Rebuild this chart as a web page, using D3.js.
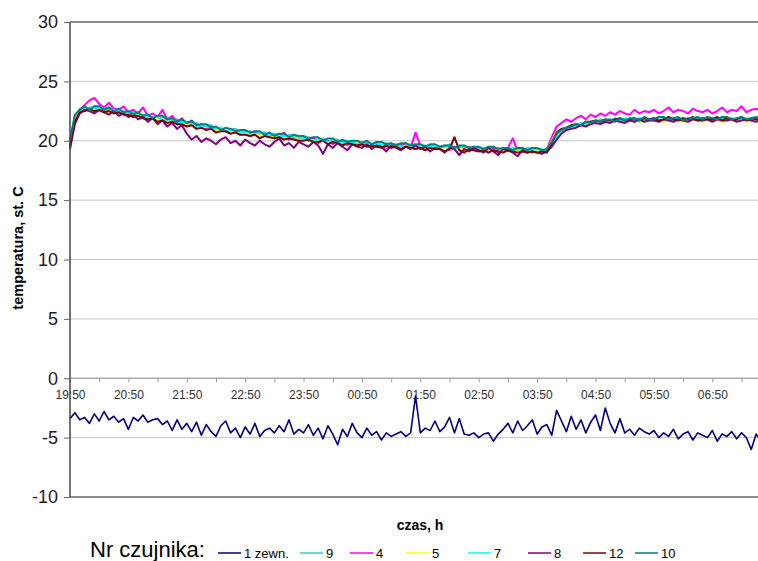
<!DOCTYPE html>
<html>
<head>
<meta charset="utf-8">
<style>
body { margin: 0; background: #fff; }
svg { display: block; font-family: "Liberation Sans", Arial, sans-serif; }
</style>
</head>
<body>
<svg width="758" height="561"></svg>
<script src="https://d3js.org/d3.v7.min.js"></script>
<script>
// sensor names (legend order = drawing order)
var sensors = ["1 zewn.", "9", "4", "5", "7", "8", "12", "10"];
var colors = ["#000080", "#33cccc", "#ff00ff", "#ffff00", "#00ffff", "#800080", "#800000", "#008080"];
var hourLabels = ["19:50", "20:50", "21:50", "22:50", "23:50", "00:50", "01:50", "02:50", "03:50", "04:50", "05:50", "06:50"];
var yTicks = [-10, -5, 0, 5, 10, 15, 20, 25, 30];

// all sensors read every 5 min from 19:50 to 07:40, one row per hour
var s1 = [-3.4,-2.9,-3.5,-3.3,-3.8,-3.0,-3.6,-2.8,-3.5,-3.2,-3.7,-3.4,
  -4.3,-3.3,-3.6,-3.1,-3.7,-3.5,-3.4,-3.9,-3.6,-4.4,-3.5,-4.3,
  -3.8,-4.5,-3.7,-4.8,-3.9,-4.5,-4.9,-4.0,-3.6,-4.6,-4.2,-5.0,
  -4.1,-4.7,-3.8,-4.9,-4.4,-4.2,-4.6,-4.0,-4.5,-3.5,-4.7,-4.3,
  -4.6,-3.9,-4.8,-4.2,-5.1,-4.0,-4.7,-5.6,-4.3,-4.9,-3.8,-4.6,
  -5.0,-4.2,-4.8,-4.5,-5.2,-4.6,-4.9,-4.7,-4.5,-4.9,-4.6,-1.5,
  -4.6,-4.2,-4.4,-3.6,-4.5,-4.1,-3.3,-4.6,-3.4,-4.7,-4.8,-4.6,
  -5.0,-4.7,-4.6,-5.3,-4.7,-4.3,-3.8,-4.6,-3.6,-4.4,-4.0,-3.5,
  -4.7,-4.1,-3.9,-4.8,-2.7,-3.6,-4.5,-3.2,-4.3,-3.5,-4.6,-3.7,
  -3.1,-4.4,-2.5,-3.8,-4.6,-3.4,-4.6,-4.3,-4.8,-4.2,-4.5,-4.7,
  -4.4,-5.0,-4.6,-4.9,-4.3,-5.1,-4.7,-4.5,-5.2,-4.6,-4.8,-5.0,
  -4.4,-5.3,-4.7,-4.9,-4.5,-5.1,-4.6,-5.0,-6.0,-4.7,-5.3];

var s9 = [19.9,22.0,22.7,22.5,22.8,22.8,22.5,22.7,22.7,22.4,22.6,22.5,
  22.2,22.4,22.3,22.0,22.2,22.0,21.8,22.0,21.9,21.6,21.8,21.6,
  21.6,21.3,21.5,21.2,21.3,21.3,21.0,21.1,20.8,21.0,21.0,20.7,
  20.7,20.8,20.6,20.6,20.7,20.4,20.6,20.5,20.3,20.5,20.5,20.2,
  20.2,20.3,20.1,20.1,20.2,19.9,20.1,20.1,19.8,20.0,19.9,19.8,
  19.9,19.7,19.8,19.8,19.6,19.8,19.6,19.7,19.7,19.5,19.7,19.6,
  19.6,19.6,19.4,19.6,19.5,19.5,19.7,19.4,19.5,19.5,19.3,19.5,
  19.4,19.4,19.3,19.4,19.4,19.2,19.4,19.3,19.3,19.2,19.4,19.3,
  19.3,19.3,19.1,19.7,20.5,21.0,21.0,21.3,21.3,21.5,21.4,21.6,
  21.6,21.8,21.7,21.7,21.9,21.6,21.8,21.8,21.6,21.9,21.8,21.7,
  21.9,21.7,21.8,21.9,21.7,21.8,21.9,21.7,21.8,21.9,21.7,21.8,
  21.8,21.9,21.7,21.8,21.9,21.7,21.9,21.8,21.7,21.9,21.8];

var s4 = [19.5,21.7,22.6,23.0,23.4,23.6,23.1,22.8,23.2,22.7,22.6,22.9,
  22.4,22.6,22.3,22.8,22.1,22.3,22.0,22.6,21.8,22.1,21.6,21.9,
  21.4,21.6,21.1,21.4,21.0,21.2,20.7,21.0,20.8,20.6,20.9,20.5,
  20.6,20.4,20.8,20.3,20.5,20.6,20.2,20.4,20.7,20.1,20.3,20.2,
  20.3,20.0,20.2,19.8,20.1,20.0,19.7,20.0,19.9,19.6,19.9,19.7,
  19.6,19.8,19.5,19.7,19.6,19.4,19.7,19.5,19.6,19.8,19.4,20.7,
  19.6,19.4,19.6,19.3,19.5,19.6,19.2,19.5,19.4,19.3,19.5,19.2,
  19.4,19.1,19.3,19.4,19.0,19.3,19.4,20.2,19.1,19.3,19.2,19.0,
  19.2,19.1,19.3,20.3,21.2,21.5,21.8,21.6,21.9,22.1,21.8,22.2,
  22.0,22.3,22.1,22.4,22.2,22.5,22.3,22.2,22.6,22.3,22.5,22.4,
  22.6,22.3,22.5,22.8,22.4,22.6,22.5,22.3,22.7,22.5,22.4,22.6,
  22.3,22.5,22.8,22.4,22.6,22.5,22.9,22.4,22.6,22.7,22.5];

var s5 = [19.7,21.8,22.4,22.6,22.7,22.5,22.7,22.6,22.4,22.6,22.4,22.3,
  22.3,22.1,22.2,22.0,21.9,22.1,21.8,21.8,21.6,21.7,21.5,21.5,
  21.3,21.4,21.2,21.0,21.2,21.0,20.8,20.9,20.9,20.7,20.8,20.6,
  20.6,20.5,20.6,20.4,20.5,20.3,20.4,20.4,20.2,20.3,20.3,20.1,
  20.1,20.2,20.0,20.0,20.1,19.8,20.0,19.9,19.8,19.9,19.7,19.8,
  19.7,19.6,19.8,19.6,19.7,19.5,19.6,19.6,19.4,19.6,19.5,19.5,
  19.5,19.3,19.5,19.4,19.4,19.5,19.3,19.4,19.4,19.2,19.4,19.3,
  19.3,19.2,19.3,19.1,19.3,19.2,19.2,19.3,19.1,19.2,19.2,19.1,
  19.2,19.1,19.2,20.0,20.8,20.9,21.1,21.2,21.4,21.4,21.5,21.5,
  21.6,21.5,21.7,21.6,21.7,21.8,21.6,21.7,21.7,21.6,21.8,21.7,
  21.7,21.8,21.6,21.7,21.8,21.7,21.6,21.8,21.7,21.8,21.6,21.7,
  21.8,21.7,21.6,21.8,21.7,21.7,21.8,21.6,21.7,21.8,21.7];

var s7 = [19.9,22.1,22.6,22.8,22.7,22.9,22.7,22.6,22.8,22.5,22.5,22.4,
  22.4,22.2,22.1,22.2,21.9,22.0,22.0,21.7,21.8,21.8,21.5,21.6,
  21.5,21.4,21.2,21.3,21.2,21.0,21.1,21.1,20.8,20.9,20.9,20.7,
  20.8,20.6,20.6,20.7,20.5,20.5,20.6,20.3,20.4,20.4,20.3,20.3,
  20.2,20.2,20.0,20.1,20.1,19.9,20.0,20.0,19.8,19.9,19.9,19.7,
  19.8,19.8,19.6,19.7,19.7,19.5,19.7,19.7,19.5,19.6,19.6,19.5,
  19.6,19.5,19.5,19.6,19.4,19.5,19.5,19.3,19.5,19.5,19.4,19.4,
  19.3,19.4,19.4,19.2,19.3,19.3,19.2,19.4,19.3,19.2,19.3,19.2,
  19.3,19.2,19.2,19.6,20.3,20.8,21.0,21.2,21.2,21.4,21.5,21.5,
  21.7,21.6,21.7,21.8,21.7,21.7,21.9,21.8,21.7,21.9,21.8,21.8,
  21.9,21.8,21.8,21.9,21.9,21.8,21.8,21.9,21.8,21.9,21.9,21.8,
  21.9,21.8,21.9,21.9,21.8,21.8,21.9,21.9,21.8,21.9,21.8];

var s8 = [19.3,21.4,22.3,22.6,22.5,22.3,22.6,22.4,22.2,22.5,22.1,22.3,
  22.0,22.2,21.8,22.0,21.6,21.9,21.4,21.7,21.2,21.5,21.0,21.3,
  20.6,20.1,20.4,19.9,20.2,20.0,19.7,20.1,20.3,19.8,20.0,19.6,
  20.1,19.8,19.6,20.0,19.7,19.5,19.9,20.2,19.6,19.8,19.4,19.9,
  19.7,19.5,19.9,19.6,18.9,19.7,19.4,19.8,19.5,19.2,19.7,19.5,
  19.4,19.7,19.3,19.6,19.5,19.1,19.6,19.4,19.2,19.5,19.3,19.6,
  19.3,19.5,19.1,19.4,19.3,19.0,19.4,19.3,18.8,19.3,19.1,19.4,
  19.2,19.0,19.4,19.1,18.8,19.3,19.2,19.0,18.7,19.2,19.0,19.1,
  19.0,18.9,19.1,19.5,20.1,20.6,20.9,21.0,21.1,21.3,21.2,21.4,
  21.5,21.4,21.6,21.5,21.7,21.6,21.5,21.7,21.6,21.8,21.6,21.7,
  21.7,21.6,21.8,21.7,21.6,21.8,21.7,21.6,21.8,21.7,21.7,21.8,
  21.6,21.8,21.7,21.7,21.8,21.6,21.7,21.8,21.7,21.6,21.8];

var s12 = [19.6,21.6,22.4,22.5,22.7,22.5,22.6,22.4,22.5,22.3,22.4,22.2,
  22.2,22.0,22.1,21.9,21.8,21.9,21.6,21.7,21.5,21.6,21.4,21.4,
  21.2,21.3,21.0,21.1,20.9,21.0,20.7,20.8,20.8,20.6,20.7,20.5,
  20.5,20.4,20.5,20.2,20.4,20.3,20.2,20.3,20.1,20.2,20.1,20.0,
  20.0,20.1,19.9,19.9,20.0,19.7,19.9,19.8,19.6,19.8,19.7,19.6,
  19.7,19.5,19.6,19.5,19.4,19.6,19.4,19.5,19.3,19.5,19.4,19.3,
  19.4,19.2,19.4,19.3,19.3,19.1,19.3,20.3,19.2,19.0,19.3,19.2,
  19.1,19.2,19.0,19.2,19.1,19.0,19.2,19.1,19.0,19.1,19.0,19.1,
  19.0,19.1,19.0,19.8,20.7,21.0,21.1,21.3,21.4,21.3,21.6,21.6,
  21.7,21.6,21.8,21.7,21.8,21.9,21.7,21.8,21.9,21.7,21.9,21.8,
  21.9,21.7,21.8,22.0,21.8,21.7,21.9,21.8,22.0,21.7,21.9,21.8,
  21.8,22.0,21.7,21.9,21.8,21.8,22.0,21.7,21.9,21.8,21.9];

var s10 = [20.0,22.2,22.6,22.9,22.6,22.9,22.9,22.6,22.8,22.5,22.7,22.4,
  22.5,22.2,22.4,22.1,22.2,21.9,22.1,22.1,21.8,21.9,21.6,21.8,
  21.5,21.7,21.3,21.4,21.4,21.1,21.2,20.9,21.1,21.0,20.8,20.9,
  20.9,20.7,20.8,20.8,20.5,20.7,20.4,20.6,20.6,20.3,20.5,20.4,
  20.4,20.2,20.3,20.3,20.0,20.2,20.2,19.9,20.1,19.9,20.0,20.0,
  19.8,20.0,19.7,19.9,19.9,19.7,19.8,19.6,19.8,19.8,19.6,19.7,
  19.7,19.5,19.7,19.7,19.5,19.6,19.6,19.4,19.6,19.6,19.4,19.5,
  19.5,19.3,19.5,19.5,19.3,19.4,19.4,19.2,19.4,19.4,19.2,19.4,
  19.4,19.2,19.3,19.9,20.6,20.9,21.1,21.2,21.4,21.3,21.6,21.5,
  21.7,21.6,21.8,21.8,21.6,21.9,21.7,21.9,21.9,21.7,22.0,21.8,
  21.8,22.0,22.0,21.8,21.9,22.0,21.7,21.9,21.9,22.0,21.8,22.0,
  21.9,21.8,22.0,22.0,21.8,21.9,22.0,21.8,21.9,22.0,21.8];

var seriesValues = [s1, s9, s4, s5, s7, s8, s12, s10];
var stepMinutes = 5;

var start = new Date(2009, 0, 1, 19, 50),
    end = new Date(2009, 0, 2, 7, 40);

var svg = d3.select("svg"),
    plotLeft = 70, plotRight = 761, plotTop = 22, plotBottom = 497;

var x = d3.scaleTime().domain([start, end]).range([plotLeft, plotRight]);
var y = d3.scaleLinear().domain([-10, 30]).range([plotBottom, plotTop]);

// horizontal grid
svg.append("g")
  .selectAll("line")
  .data(yTicks)
  .enter().append("line")
    .attr("x1", plotLeft).attr("x2", plotRight)
    .attr("y1", function(d) { return y(d); })
    .attr("y2", function(d) { return y(d); })
    .attr("stroke", function(d) { return (d === 30 || d === -10) ? "#666" : "#c4c4c4"; })
    .attr("stroke-width", function(d) { return (d === 30 || d === -10) ? 1.5 : 1; });

// time axis along zero, tick every half hour, label every hour
var tickDates = d3.range(0, 25).map(function(i) { return d3.timeMinute.offset(start, 30 * i); });
var xAxis = svg.append("g")
    .attr("transform", "translate(0," + y(0) + ")")
    .call(d3.axisBottom(x)
      .tickValues(tickDates)
      .tickSize(4)
      .tickPadding(8)
      .tickFormat(function(d, i) { return i % 2 === 0 ? hourLabels[i / 2] : ""; }));
xAxis.select(".domain").attr("stroke", "#999").attr("d", "M" + plotLeft + ",0H" + plotRight);
xAxis.selectAll(".tick line").attr("stroke", "#999");
xAxis.selectAll(".tick text").attr("font-size", 12).attr("fill", "#333").attr("font-family", "Liberation Sans, Arial, sans-serif");

// data lines
var line = d3.line()
    .x(function(d) { return x(d.t); })
    .y(function(d) { return y(d.v); });

svg.append("g")
  .selectAll("path")
  .data(seriesValues.map(function(vals) {
    return vals.map(function(v, i) { return {t: d3.timeMinute.offset(start, stepMinutes * i), v: v}; });
  }))
  .enter().append("path")
    .attr("d", line)
    .attr("fill", "none")
    .attr("stroke", function(d, k) { return colors[k]; })
    .attr("stroke-width", function(d, k) { return k === 0 ? 1.6 : 2; })
    .attr("stroke-linejoin", "round");

// value axis
var yAxis = svg.append("g")
    .attr("transform", "translate(" + plotLeft + ",0)")
    .call(d3.axisLeft(y).tickValues(yTicks).tickSize(6).tickPadding(6)
      .tickFormat(function(d) { return String(d); }));
yAxis.select(".domain").attr("stroke", "#444").attr("stroke-width", 1.5).attr("d", "M0," + plotTop + "V" + plotBottom);
yAxis.selectAll(".tick line").attr("stroke", "#666");
yAxis.selectAll(".tick text").attr("font-size", 18).attr("fill", "#222").attr("font-family", "Liberation Sans, Arial, sans-serif");

// axis titles
svg.append("text")
    .attr("transform", "translate(23,248) rotate(-90)")
    .attr("text-anchor", "middle")
    .attr("font-size", 14.5)
    .attr("font-weight", "bold")
    .text("temperatura, st. C");

svg.append("text")
    .attr("x", 420)
    .attr("y", 530)
    .attr("text-anchor", "middle")
    .attr("font-size", 14)
    .attr("font-weight", "bold")
    .text("czas, h");

// legend
svg.append("text")
    .attr("x", 90)
    .attr("y", 557)
    .attr("font-size", 22)
    .text("Nr czujnika:");

var legendX = [218, 300, 350, 406, 468, 528, 583, 635];
var legend = svg.append("g")
  .selectAll("g")
  .data(sensors)
  .enter().append("g")
    .attr("transform", function(d, i) { return "translate(" + legendX[i] + ",553)"; });
legend.append("line")
    .attr("x1", 0).attr("x2", 23)
    .attr("stroke", function(d, i) { return colors[i]; })
    .attr("stroke-width", 1.5);
legend.append("text")
    .attr("x", 26)
    .attr("dy", "0.35em")
    .attr("font-size", 13)
    .text(function(d) { return d; });
</script>
</body>
</html>
